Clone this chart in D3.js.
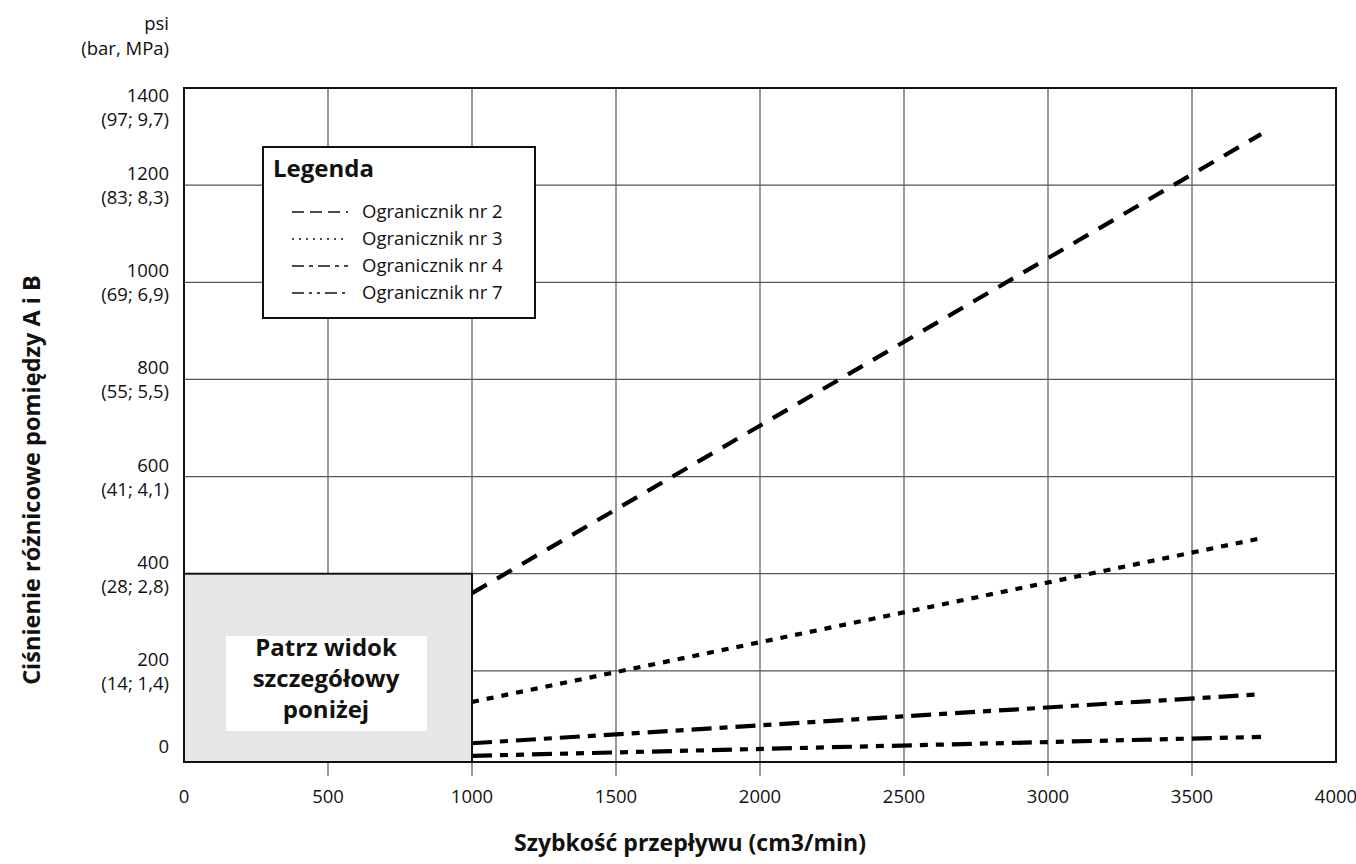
<!DOCTYPE html>
<html><head><meta charset="utf-8">
<script src="https://cdn.jsdelivr.net/npm/d3@7"></script>
<style>
body{margin:0;background:#fff;}
text{font-family:"Open Sans",sans-serif;fill:#111;}
</style></head>
<body><svg id="c" width="1356" height="864"></svg>
<script>
const xTicks=[0,500,1000,1500,2000,2500,3000,3500,4000];
const yTicks=[0,200,400,600,800,1000,1200,1400];
const yTickSub=["","(14; 1,4)","(28; 2,8)","(41; 4,1)","(55; 5,5)","(69; 6,9)","(83; 8,3)","(97; 9,7)"];
const flow=[1000,3740];
const seriesNames=["Ogranicznik nr 2","Ogranicznik nr 3","Ogranicznik nr 4","Ogranicznik nr 7"];
const s2=[360,1305];
const s3=[136,473];
const s4=[51,152];
const s7=[25,64];
const detailBox={x0:0,x1:1000,y0:0,y1:400};
const detailText=["Patrz widok","szczegółowy","poniżej"];

const svg=d3.select("#c");
const L=184,R=1336,T=88,B=762;
const FS=18.5;
const x=d3.scaleLinear().domain([0,4000]).range([L,R]);
const y=d3.scaleLinear().domain([0,1400]).range([768,T]);

// grid
svg.append("g").selectAll("line").data(xTicks.slice(1,-1)).join("line")
 .attr("x1",d=>x(d)).attr("x2",d=>x(d)).attr("y1",T).attr("y2",776)
 .attr("stroke","#555").attr("stroke-width",1.2);
svg.append("g").selectAll("line").data(yTicks.slice(1,-1)).join("line")
 .attr("x1",L).attr("x2",R).attr("y1",d=>y(d)).attr("y2",d=>y(d))
 .attr("stroke","#555").attr("stroke-width",1.2);

// lines
const dashes=["17,12","7,8","20,8,8,8","20,8,8,8,8,8"];
const all=[s2,s3,s4,s7];
const line=d3.line().x((d,i)=>x(flow[i])).y(d=>y(d));
all.forEach((s,k)=>{
 svg.append("path").datum(s).attr("d",line).attr("fill","none")
  .attr("stroke","#000").attr("stroke-width",4.2).attr("stroke-dasharray",dashes[k]);
});

// frame
svg.append("rect").attr("x",L).attr("y",T).attr("width",R-L).attr("height",B-T)
 .attr("fill","none").attr("stroke","#111").attr("stroke-width",2);

// detail box
svg.append("rect").attr("x",x(detailBox.x0)).attr("y",y(detailBox.y1))
 .attr("width",x(detailBox.x1)-x(detailBox.x0)).attr("height",B-y(detailBox.y1))
 .attr("fill","#e6e6e6").attr("stroke","#111").attr("stroke-width",2);
svg.append("rect").attr("x",226).attr("y",636).attr("width",201).attr("height",95).attr("fill","#fff");
svg.append("g").selectAll("text").data(detailText).join("text")
 .attr("x",326).attr("y",(d,i)=>656+i*31).attr("text-anchor","middle")
 .attr("font-size",24).attr("font-weight",700).text(d=>d);

// y tick labels
const yl=svg.append("g");
yTicks.forEach((v,i)=>{
 const c=Math.min(Math.max(y(v),T+19),B-15);
 if(yTickSub[i]===""){
  yl.append("text").attr("x",169).attr("y",c+6).attr("text-anchor","end").attr("font-size",FS).text(v);
 } else {
  yl.append("text").attr("x",169).attr("y",c-5).attr("text-anchor","end").attr("font-size",FS).text(v);
  yl.append("text").attr("x",169).attr("y",c+19).attr("text-anchor","end").attr("font-size",FS).text(yTickSub[i]);
 }
});
svg.append("text").attr("x",169).attr("y",30).attr("text-anchor","end").attr("font-size",FS).text("psi");
svg.append("text").attr("x",169).attr("y",55).attr("text-anchor","end").attr("font-size",FS).text("(bar, MPa)");

// x tick labels
svg.append("g").selectAll("text").data(xTicks).join("text")
 .attr("x",d=>x(d)).attr("y",803).attr("text-anchor","middle").attr("font-size",FS).text(d=>d);

// titles
svg.append("text").attr("x",690).attr("y",851).attr("text-anchor","middle")
 .attr("font-size",23).attr("font-weight",700).text("Szybkość przepływu (cm3/min)");
svg.append("text").attr("transform","translate(40,480) rotate(-90)").attr("text-anchor","middle")
 .attr("font-size",23.5).attr("font-weight",700).text("Ciśnienie różnicowe pomiędzy A i B");

// legend
const lg=svg.append("g");
lg.append("rect").attr("x",263).attr("y",147).attr("width",272).attr("height",171)
 .attr("fill","#fff").attr("stroke","#111").attr("stroke-width",2);
lg.append("text").attr("x",273).attr("y",177).attr("font-size",24).attr("font-weight",700).text("Legenda");
const ldash=["12,6","2,5","12,5,4,5","12,5,3,5,3,5"];
seriesNames.forEach((n,i)=>{
 const yy=212+i*27;
 lg.append("line").attr("x1",292).attr("x2",348).attr("y1",yy).attr("y2",yy)
  .attr("stroke","#111").attr("stroke-width",1.5).attr("stroke-dasharray",ldash[i]);
 lg.append("text").attr("x",362).attr("y",yy+6).attr("font-size",FS).text(n);
});
</script></body></html>
